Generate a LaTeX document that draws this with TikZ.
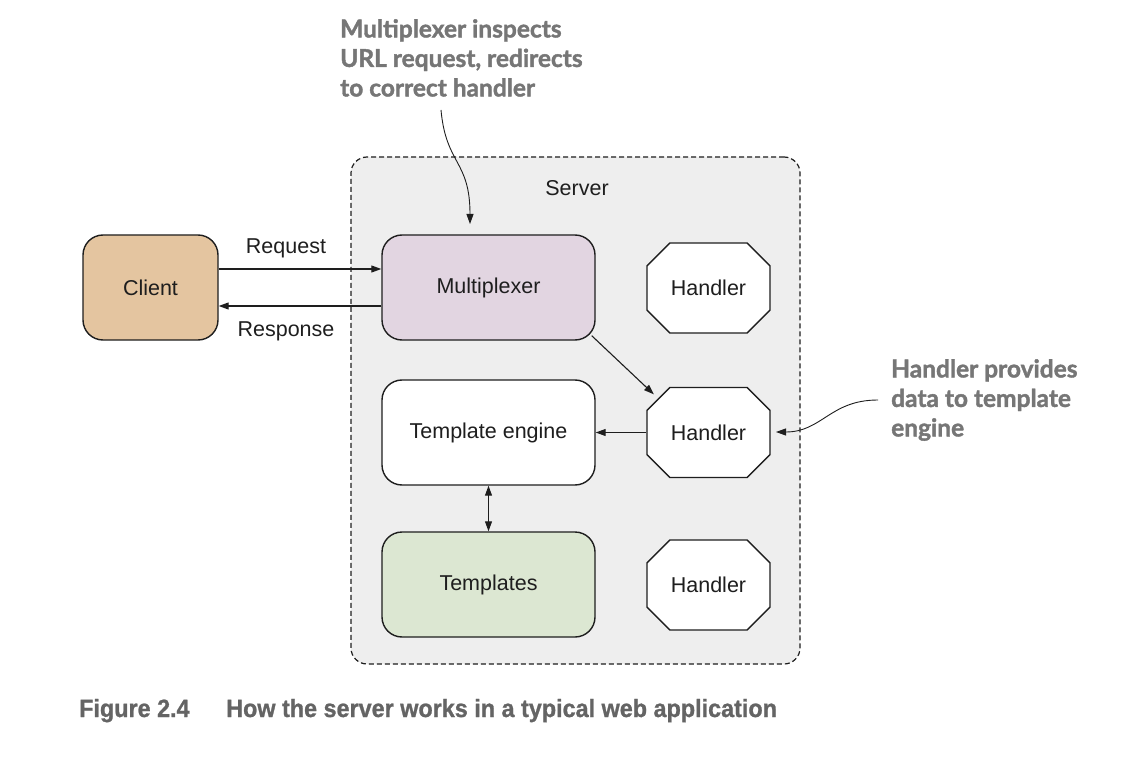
\documentclass[tikz,border=0pt]{standalone}
\usepackage{fontspec}
\setmainfont{Liberation Sans}
\newfontfamily\notefont{Lato}[BoldFeatures={FakeBold=1.6}]
\newfontfamily\capfont{Liberation Sans}[FakeStretch=0.935,BoldFeatures={FakeBold=1.0}]
\usetikzlibrary{arrows.meta,shapes.misc,calc}

\definecolor{serverbg}{RGB}{238,238,238}
\definecolor{clientfill}{RGB}{228,197,160}
\definecolor{muxfill}{RGB}{226,213,225}
\definecolor{tplfill}{RGB}{220,231,210}
\definecolor{notegray}{RGB}{118,118,118}
\definecolor{capgray}{RGB}{100,100,100}
\definecolor{linecol}{RGB}{30,30,30}

\begin{document}
\begin{tikzpicture}[x=1pt,y=-1pt,
  every node/.style={font=\fontsize{21.5}{25}\selectfont, text=linecol},
  roundbox/.style={draw=linecol, line width=1.4pt, rounded corners=20pt,
    minimum width=213pt, minimum height=105pt, inner sep=0pt},
  handlerbox/.style={draw=linecol, line width=1.4pt, fill=white,
    chamfered rectangle, chamfered rectangle xsep=15pt, chamfered rectangle ysep=15pt,
    minimum width=123pt, minimum height=90pt, inner sep=0pt},
  arr/.style={draw=linecol, line width=1.1pt, -{Stealth[length=10pt,width=7pt,inset=0pt]}},
  note/.style={font=\notefont\bfseries\fontsize{24.5}{29.5}\selectfont, text=notegray,
    align=left, inner sep=0pt},
  capstyle/.style={font=\capfont\bfseries\fontsize{25}{30}\selectfont, text=capgray,
    anchor=base west, inner sep=0pt},
]
\useasboundingbox (0,0) rectangle (1130,762);

% server container
\node[draw=linecol, fill=serverbg, line width=1.2pt, dash pattern=on 5pt off 3pt,
  rounded corners=16pt, minimum width=449pt, minimum height=507pt] (server) at (575.5,410.5) {};
\node (serverlabel) at (577,188) {Server};

% components
\node[roundbox, fill=clientfill, minimum width=135pt] (client) at (150.5,287.5) {Client};
\node[roundbox, fill=muxfill] (mux) at (488.5,287.5) {Multiplexer};
\node[roundbox, fill=white] (engine) at (488.5,432.5) {Template engine};
\node[roundbox, fill=tplfill] (tpl) at (488.5,584.5) {Templates};
\node[handlerbox] (h1) at (708.5,288) {Handler};
\node[handlerbox] (h2) at (708.5,432.5) {Handler};
\node[handlerbox] (h3) at (708.5,585) {Handler};

% request / response
\draw[arr] ([yshift=18.5pt]client.east) -- ([yshift=18.5pt]mux.west);
\draw[arr] ([yshift=-18.5pt]mux.west) -- ([yshift=-18.5pt]client.east);
\node (req) at (286,248) {Request};
\node (resp) at (286,331) {Response};

% internal flow
\coordinate (muxout) at ($(mux.south east)+(-4,-5)$);
\coordinate (h2in) at ($(h2.west |- h2.north)+(7.5,7.5)$);
\draw[arr] (muxout) -- (h2in);
\draw[arr] (h2.west) -- (engine.east);
\draw[draw=linecol, line width=1.1pt, {Stealth[length=10pt,width=7pt,inset=0pt]}-{Stealth[length=10pt,width=7pt,inset=0pt]}]
  (engine.south) -- (tpl.north);

% annotations
\node[note, anchor=north west] (note1) at (340,19)
  {Multiplexer inspects\\URL request, redirects\\to correct handler};
\coordinate (note1from) at (441,110);
\coordinate (note1to) at (470,224);
\draw[arr, line width=0.9pt] (note1from) .. controls (446,165) and (470,160) .. (note1to);

\node[note, anchor=north west] (note2) at (891,359)
  {Handler provides\\data to template\\engine};
\coordinate (note2from) at (878,400);
\coordinate (note2to) at (776,432);
\draw[arr, line width=0.9pt] (note2from) .. controls (830,400) and (822,432) .. (note2to);

% caption
\node[capstyle] (capnum) at (79,717) {Figure 2.4};
\node[capstyle] (captext) at (226,717) {How the server works in a typical web application};
\end{tikzpicture}
\end{document}
